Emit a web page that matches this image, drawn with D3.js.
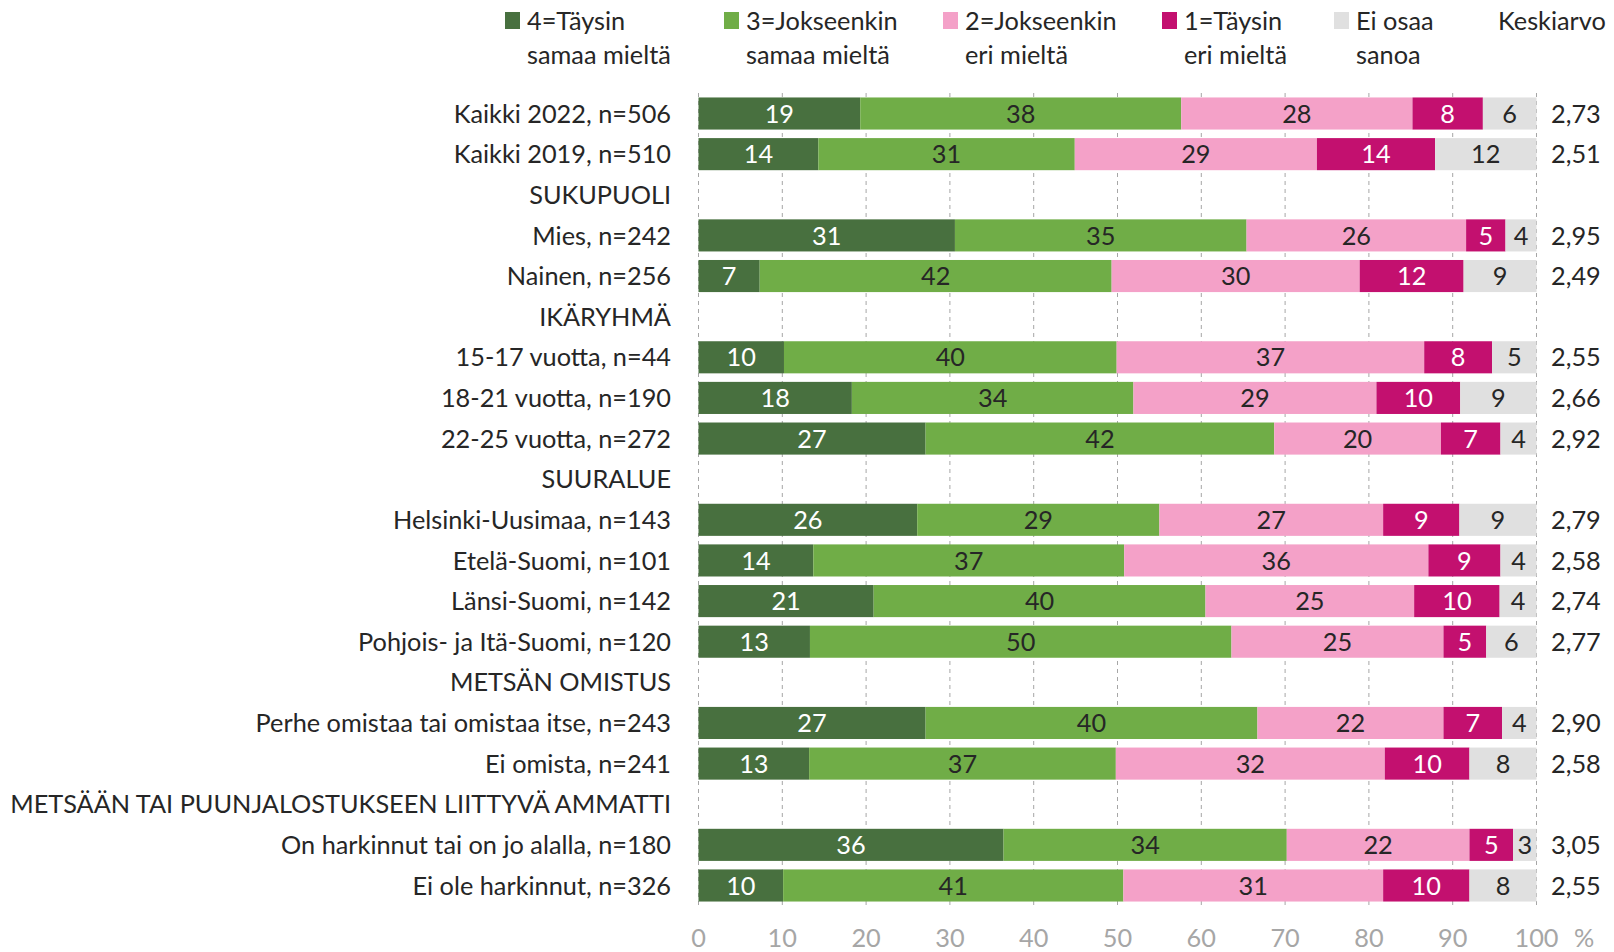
<!DOCTYPE html>
<html>
<head>
<meta charset="utf-8">
<script src="https://cdn.jsdelivr.net/npm/d3@7"></script>
<style>
  body { margin: 0; background: #fff; }
  svg text { font-family: Lato, "Open Sans", sans-serif; }
</style>
</head>
<body>
<div id="chart"></div>
<script>
// row labels (headers have no data)
var rows = [
  "Kaikki 2022, n=506", "Kaikki 2019, n=510", "SUKUPUOLI",
  "Mies, n=242", "Nainen, n=256", "IKÄRYHMÄ",
  "15-17 vuotta, n=44", "18-21 vuotta, n=190", "22-25 vuotta, n=272", "SUURALUE",
  "Helsinki-Uusimaa, n=143", "Etelä-Suomi, n=101", "Länsi-Suomi, n=142", "Pohjois- ja Itä-Suomi, n=120",
  "METSÄN OMISTUS",
  "Perhe omistaa tai omistaa itse, n=243", "Ei omista, n=241",
  "METSÄÄN TAI PUUNJALOSTUKSEEN LIITTYVÄ AMMATTI",
  "On harkinnut tai on jo alalla, n=180", "Ei ole harkinnut, n=326"
];
var keys = [["4=Täysin", "samaa mieltä"], ["3=Jokseenkin", "samaa mieltä"], ["2=Jokseenkin", "eri mieltä"], ["1=Täysin", "eri mieltä"], ["Ei osaa", "sanoa"]];
var colors = ["#48703f", "#70ad47", "#f4a1c8", "#c3106f", "#e0e0e0"];
var textColors = ["#ffffff", "#262626", "#262626", "#ffffff", "#262626"];

// percentages per row, null for header rows
var s4 = [19.3, 14.3, null, 30.6, 7.3, null, 10.2, 18.3, 27.1, null, 26.1, 13.7, 20.9, 13.3, null, 27.1, 13.2, null, 36.4, 10.1];
var s3 = [38.3, 30.6, null, 34.8, 42.0, null, 39.7, 33.6, 41.6, null, 28.9, 37.1, 39.6, 50.3, null, 39.6, 36.6, null, 33.8, 40.6];
var s2 = [27.6, 28.9, null, 26.2, 29.6, null, 36.7, 29.0, 19.9, null, 26.7, 36.3, 24.9, 25.3, null, 22.2, 32.1, null, 21.8, 31.0];
var s1 = [8.4, 14.1, null, 4.7, 12.4, null, 8.1, 10.0, 7.1, null, 9.1, 8.6, 10.2, 5.1, null, 7.0, 10.1, null, 5.2, 10.3];
var s0 = [6.4, 12.1, null, 3.7, 8.7, null, 5.3, 9.1, 4.3, null, 9.2, 4.3, 4.4, 6.0, null, 4.1, 8.0, null, 2.8, 8.0];
var means = ["2,73", "2,51", "", "2,95", "2,49", "", "2,55", "2,66", "2,92", "", "2,79", "2,58", "2,74", "2,77", "", "2,90", "2,58", "", "3,05", "2,55"];
var xTicks = [0, 10, 20, 30, 40, 50, 60, 70, 80, 90, 100];

var width = 1614, height = 952;
var fs = 25.3;

var svg = d3.select("#chart")
  .append("svg")
    .attr("width", width)
    .attr("height", height);

var x = d3.scaleLinear()
    .domain([0, 100])
    .range([698.5, 1536.5]);

var y = d3.scaleBand()
    .domain(d3.range(rows.length))
    .range([93.2, 905.8])
    .paddingInner(0.21)
    .paddingOuter(0.105);

// dashed grid lines
svg.append("g")
  .selectAll("line")
  .data(xTicks)
  .enter()
  .append("line")
    .attr("x1", function(d) { return x(d); })
    .attr("x2", function(d) { return x(d); })
    .attr("y1", 93)
    .attr("y2", 905)
    .style("stroke", "#a6a6a6")
    .style("stroke-width", 1)
    .style("stroke-dasharray", "4,4");

// stack the series
var table = rows.map(function(r, i) {
  return { row: i, v: [s4[i], s3[i], s2[i], s1[i], s0[i]] };
}).filter(function(d) { return d.v[0] !== null; });

var segs = [];
table.forEach(function(d) {
  var acc = 0;
  d.v.forEach(function(v, k) {
    segs.push({ row: d.row, k: k, x0: acc, x1: acc + v, v: v });
    acc += v;
  });
});

svg.append("g")
  .selectAll("rect")
  .data(segs)
  .enter()
  .append("rect")
    .attr("x", function(d) { return x(d.x0); })
    .attr("y", function(d) { return y(d.row); })
    .attr("width", function(d) { return x(d.x1) - x(d.x0); })
    .attr("height", y.bandwidth())
    .style("fill", function(d) { return colors[d.k]; });

svg.append("g")
  .selectAll("text")
  .data(segs)
  .enter()
  .append("text")
    .attr("x", function(d) { return (x(d.x0) + x(d.x1)) / 2; })
    .attr("y", function(d) { return y(d.row) + y.bandwidth() / 2; })
    .attr("dy", "0.36em")
    .attr("text-anchor", "middle")
    .style("font-size", fs + "px")
    .style("fill", function(d) { return textColors[d.k]; })
    .text(function(d) { return Math.round(d.v); });

// row labels
svg.append("g")
  .selectAll("text")
  .data(rows)
  .enter()
  .append("text")
    .attr("x", 671)
    .attr("y", function(d, i) { return y(i) + y.bandwidth() / 2; })
    .attr("dy", "0.36em")
    .attr("text-anchor", "end")
    .style("font-size", fs + "px")
    .style("fill", "#262626")
    .text(function(d) { return d; });

// means
svg.append("g")
  .selectAll("text")
  .data(means)
  .enter()
  .append("text")
    .attr("x", 1551)
    .attr("y", function(d, i) { return y(i) + y.bandwidth() / 2; })
    .attr("dy", "0.36em")
    .style("font-size", fs + "px")
    .style("fill", "#262626")
    .text(function(d) { return d; });

// x axis labels
svg.append("g")
  .selectAll("text")
  .data(xTicks)
  .enter()
  .append("text")
    .attr("x", function(d) { return x(d); })
    .attr("y", 938)
    .attr("dy", "0.36em")
    .attr("text-anchor", "middle")
    .style("font-size", fs + "px")
    .style("fill", "#a6a6a6")
    .text(function(d) { return d; });
svg.append("text")
  .attr("x", 1574).attr("y", 938).attr("dy", "0.36em")
  .style("font-size", fs + "px").style("fill", "#a6a6a6").text("%");

// legend
var legX = [505, 724, 943, 1162, 1334];
keys.forEach(function(k, i) {
  var g = svg.append("g");
  g.append("rect").attr("x", legX[i]).attr("y", 12).attr("width", 15).attr("height", 17).style("fill", colors[i]);
  g.append("text").attr("x", legX[i] + 22).attr("y", 20.5).attr("dy", "0.36em")
    .style("font-size", fs + "px").style("fill", "#262626").text(k[0]);
  g.append("text").attr("x", legX[i] + 22).attr("y", 54.5).attr("dy", "0.36em")
    .style("font-size", fs + "px").style("fill", "#262626").text(k[1]);
});
svg.append("text").attr("x", 1498).attr("y", 20.5).attr("dy", "0.36em")
  .style("font-size", fs + "px").style("fill", "#262626").text("Keskiarvo");
</script>
</body>
</html>
